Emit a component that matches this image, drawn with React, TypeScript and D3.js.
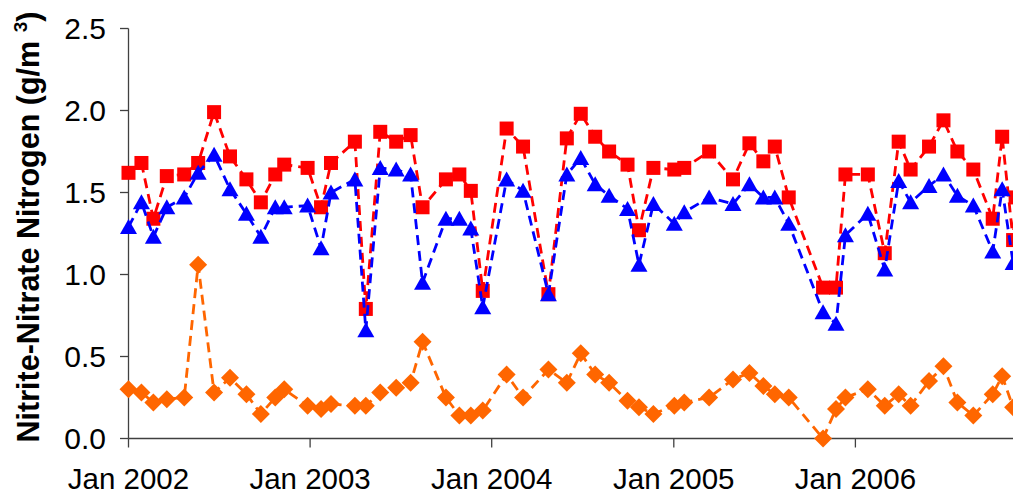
import React from 'react';
import * as d3 from 'd3';

// sampling dates (shared by the three series)
const dates = [
  '2002-01-01', '2002-01-27', '2002-02-20', '2002-03-19', '2002-04-23', '2002-05-21',
  '2002-06-22', '2002-07-24', '2002-08-26', '2002-09-24', '2002-10-23', '2002-11-10',
  '2002-12-27', '2003-01-23', '2003-02-12', '2003-04-01', '2003-04-23', '2003-05-22',
  '2003-06-23', '2003-07-22', '2003-08-15', '2003-10-01', '2003-10-28', '2003-11-20',
  '2003-12-14', '2004-01-31', '2004-03-04', '2004-04-24', '2004-05-31', '2004-06-28',
  '2004-07-27', '2004-08-24', '2004-09-30', '2004-10-23', '2004-11-21', '2005-01-02',
  '2005-01-22', '2005-03-13', '2005-04-30', '2005-06-02', '2005-06-30', '2005-07-23',
  '2005-08-20', '2005-10-28', '2005-11-23', '2005-12-12', '2006-01-26', '2006-03-01',
  '2006-03-29', '2006-04-22', '2006-05-29', '2006-06-27', '2006-07-25', '2006-08-26',
  '2006-10-04', '2006-10-23', '2006-11-14', '2006-11-19',
];

const redValues: (number | null)[] = [
  1.62, 1.68, 1.34, 1.60, 1.61, 1.68, 1.99, 1.72, 1.58, 1.44, 1.61, 1.67,
  1.65, 1.41, 1.68, 1.81, 0.79, 1.87, 1.81, 1.85, 1.41, 1.58, 1.61, 1.51,
  0.90, 1.89, 1.78, 0.88, 1.83, 1.98, 1.84, 1.75, 1.67, 1.27, 1.65, 1.64,
  1.65, 1.75, 1.58, 1.80, 1.69, 1.78, 1.47, 0.92, 0.92, 1.61, 1.61, 1.13,
  1.81, 1.64, 1.78, 1.94, 1.75, 1.64, 1.34, 1.84, 1.21, 1.47,
];

const blueValues: (number | null)[] = [
  1.29, 1.44, 1.23, 1.41, 1.47, 1.62, 1.73, 1.52, 1.37, 1.23, 1.41, 1.41,
  1.42, 1.16, 1.50, 1.58, 0.66, 1.65, 1.64, 1.61, 0.95, 1.34, 1.34, 1.28,
  0.80, 1.58, 1.51, 0.88, 1.61, 1.71, 1.55, 1.48, 1.40, 1.06, 1.43, 1.31,
  1.38, 1.47, 1.43, 1.55, 1.47, 1.47, 1.31, 0.77, 0.70, 1.24, 1.37, 1.03,
  1.57, 1.44, 1.54, 1.61, 1.48, 1.42, 1.14, 1.52, 1.07, null,
];

const orangeValues: (number | null)[] = [
  0.30, 0.28, 0.22, 0.24, 0.25, 1.06, 0.28, 0.37, 0.27, 0.15, 0.25, 0.30,
  0.20, 0.18, 0.21, 0.20, 0.20, 0.28, 0.31, 0.34, 0.59, 0.25, 0.14, 0.14,
  0.17, 0.39, 0.25, 0.42, 0.34, 0.52, 0.39, 0.34, 0.23, 0.19, 0.15, 0.20,
  0.22, 0.25, 0.36, 0.40, 0.32, 0.27, 0.25, 0.00, 0.18, 0.25, 0.30, 0.20,
  0.27, 0.20, 0.35, 0.44, 0.22, 0.14, 0.27, 0.38, 0.19, null,
];

const yTicks = [0, 0.5, 1.0, 1.5, 2.0, 2.5];
const xTickYears = [2002, 2003, 2004, 2005, 2006];

const W = 1013;
const H = 495;
const FONT = '"Liberation Sans", Arial, sans-serif';

type Pt = { date: Date; value: number | null };

const toPoints = (vals: (number | null)[]): Pt[] =>
  dates.map((d, i) => ({ date: new Date(d + 'T00:00:00Z'), value: vals[i] }));

const App: React.FC = () => {
  const x = d3.scaleUtc()
    .domain([new Date(Date.UTC(2002, 0, 1)), new Date(Date.UTC(2007, 0, 1))])
    .range([128.5, 1037]);
  const y = d3.scaleLinear().domain([0, 2.5]).range([438.5, 28.5]);

  const line = d3.line<Pt>()
    .defined(d => d.value !== null)
    .x(d => x(d.date))
    .y(d => y(d.value as number));

  const series = [
    { key: 'red', color: '#FF0000', shape: 'square', pts: toPoints(redValues) },
    { key: 'blue', color: '#0000FF', shape: 'triangle', pts: toPoints(blueValues) },
    { key: 'orange', color: '#FF6600', shape: 'diamond', pts: toPoints(orangeValues) },
  ];

  const marker = (shape: string, color: string, cx: number, cy: number, k: number) => {
    if (shape === 'square') {
      return <rect key={k} x={cx - 7} y={cy - 7} width={14} height={14} fill={color} />;
    }
    if (shape === 'triangle') {
      return <path key={k} d={`M${cx},${cy - 8}L${cx + 8.5},${cy + 7}L${cx - 8.5},${cy + 7}Z`} fill={color} />;
    }
    return <path key={k} d={`M${cx},${cy - 9}L${cx + 9},${cy}L${cx},${cy + 9}L${cx - 9},${cy}Z`} fill={color} />;
  };

  const axisColor = '#404040';

  return (
    <svg width={W} height={H} style={{ position: 'absolute', left: 0, top: 0, background: '#fff' }}>
      <defs>
        <clipPath id="plot">
          <rect x={110} y={0} width={W - 110} height={H} />
        </clipPath>
      </defs>

      {/* y axis */}
      <line x1={128.5} x2={128.5} y1={y(2.5)} y2={y(0)} stroke={axisColor} strokeWidth={1.3} />
      {yTicks.map(t => (
        <g key={t}>
          <line x1={120} x2={128.5} y1={y(t)} y2={y(t)} stroke={axisColor} strokeWidth={1.3} />
          <text x={106} y={y(t) + 10.5} textAnchor="end" fontFamily={FONT} fontSize={30} fill="#000">
            {t.toFixed(1)}
          </text>
        </g>
      ))}

      {/* x axis */}
      <line x1={128.5} x2={W} y1={y(0)} y2={y(0)} stroke={axisColor} strokeWidth={1.3} />
      {xTickYears.map(yr => {
        const px = x(new Date(Date.UTC(yr, 0, 1)));
        return (
          <g key={yr}>
            <line x1={px} x2={px} y1={y(0)} y2={y(0) + 9} stroke={axisColor} strokeWidth={1.3} />
            <text x={px} y={489} textAnchor="middle" fontFamily={FONT} fontSize={29.5} fill="#000">
              {'Jan ' + yr}
            </text>
          </g>
        );
      })}

      {/* axis title */}
      <text
        transform={`translate(39,${227}) rotate(-90)`}
        textAnchor="middle"
        fontFamily={FONT}
        fontSize={30.5}
        fontWeight="bold"
        fill="#000"
      >
        Nitrite-Nitrate Nitrogen (g/m <tspan fontSize={19} dy={-12}>3</tspan><tspan dy={12}>)</tspan>
      </text>

      <g clipPath="url(#plot)">
        {series.map(s => (
          <g key={s.key}>
            <path
              d={line(s.pts) || ''}
              fill="none"
              stroke={s.color}
              strokeWidth={2.8}
              strokeDasharray="10,6"
            />
            {s.pts
              .filter(p => p.value !== null)
              .map((p, i) => marker(s.shape, s.color, x(p.date), y(p.value as number), i))}
          </g>
        ))}
      </g>
    </svg>
  );
};

export default App;
